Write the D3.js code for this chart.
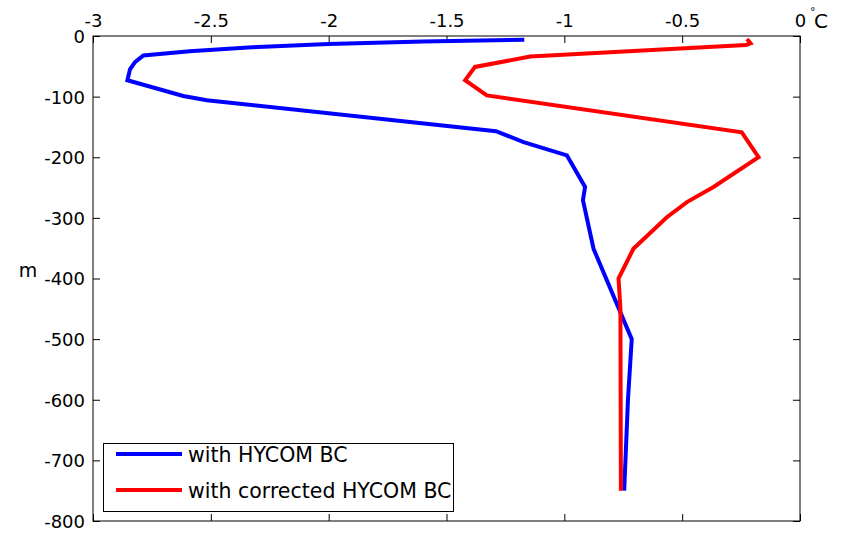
<!DOCTYPE html>
<html>
<head>
<meta charset="utf-8">
<script src="https://cdn.jsdelivr.net/npm/d3@7/dist/d3.min.js"></script>
<style>
  html, body { margin: 0; padding: 0; background: #fff; }
  svg { display: block; font-family: "DejaVu Sans", "Liberation Sans", Arial, sans-serif; }
</style>
</head>
<body>
<svg id="chart" width="854" height="536"></svg>
<script>
// Temperature difference profiles (°C) against depth (m)
const blueDepth = [-6, -9, -13, -18, -25, -32, -43, -55, -73, -99, -106, -157, -175, -197, -249, -271, -351, -500, -600, -750];
const blueTemp  = [-1.17, -1.6, -2.0, -2.3, -2.59, -2.786, -2.822, -2.843, -2.854, -2.617, -2.517, -1.29, -1.173, -0.989, -0.912, -0.921, -0.876, -0.714, -0.73, -0.746];

const redDepth = [-5, -12, -15, -34, -51, -73, -98, -159, -200, -249, -274, -299, -351, -400, -450, -750];
const redTemp  = [-0.225, -0.21, -0.23, -1.145, -1.379, -1.421, -1.329, -0.247, -0.176, -0.367, -0.48, -0.565, -0.707, -0.77, -0.762, -0.76];

const seriesNames = ["with HYCOM BC", "with corrected HYCOM BC"];
const seriesColors = ["#0000ff", "#ff0000"];

const xTicks = [-3, -2.5, -2, -1.5, -1, -0.5, 0];
const yTicks = [0, -100, -200, -300, -400, -500, -600, -700, -800];

const W = 854, H = 536;
const plot = { left: 93, right: 800, top: 36, bottom: 521 };
const FONT = "'DejaVu Sans', 'Liberation Sans', Arial, sans-serif";

const svg = d3.select("#chart");
svg.append("rect").attr("width", W).attr("height", H).attr("fill", "#fff");

const x = d3.scaleLinear().domain([-3, 0]).range([plot.left, plot.right]);
const y = d3.scaleLinear().domain([0, -800]).range([plot.top, plot.bottom]);

const fmt = d => String(d);
const tickLen = 7;

// Top axis with labels, ticks pointing into the plot
const topAxis = svg.append("g")
  .attr("transform", `translate(0,${plot.top})`)
  .call(d3.axisTop(x).tickValues(xTicks).tickFormat(fmt).tickSizeInner(-tickLen).tickSizeOuter(0).tickPadding(0));
topAxis.select(".domain").remove();
topAxis.selectAll("text").attr("y", -9).attr("dy", 0).attr("font-size", 18).attr("fill", "#000")
  .attr("font-family", FONT);

// Bottom axis: ticks only
const bottomAxis = svg.append("g")
  .attr("transform", `translate(0,${plot.bottom})`)
  .call(d3.axisBottom(x).tickValues(xTicks).tickFormat("").tickSizeInner(-tickLen).tickSizeOuter(0));
bottomAxis.select(".domain").remove();

// Left axis with labels
const leftAxis = svg.append("g")
  .attr("transform", `translate(${plot.left},0)`)
  .call(d3.axisLeft(y).tickValues(yTicks).tickFormat(fmt).tickSizeInner(-tickLen).tickSizeOuter(0).tickPadding(0));
leftAxis.select(".domain").remove();
leftAxis.selectAll("text").attr("x", -8).attr("dy", "0.36em").attr("font-size", 18).attr("fill", "#000")
  .attr("font-family", FONT);

// Right axis: ticks only
const rightAxis = svg.append("g")
  .attr("transform", `translate(${plot.right},0)`)
  .call(d3.axisRight(y).tickValues(yTicks).tickFormat("").tickSizeInner(-tickLen).tickSizeOuter(0));
rightAxis.select(".domain").remove();

svg.selectAll(".tick line").attr("stroke", "#000");

// Axes box
svg.append("rect")
  .attr("x", plot.left).attr("y", plot.top)
  .attr("width", plot.right - plot.left).attr("height", plot.bottom - plot.top)
  .attr("fill", "none").attr("stroke", "#000").attr("stroke-width", 1);

// Profiles
const line = d3.line().x(d => x(d[0])).y(d => y(d[1]));
const series = [
  d3.zip(blueTemp, blueDepth),
  d3.zip(redTemp, redDepth)
];
series.forEach((pts, i) => {
  svg.append("path")
    .datum(pts)
    .attr("d", line)
    .attr("fill", "none")
    .attr("stroke", seriesColors[i])
    .attr("stroke-width", 4)
    .attr("stroke-linejoin", "miter");
});

// Unit labels
svg.append("text").attr("x", 28).attr("y", 270).attr("dy", "0.36em")
  .attr("text-anchor", "middle").attr("font-size", 19).text("m");
svg.append("text").attr("x", 810).attr("y", 15)
  .attr("font-size", 11).text("°");
svg.append("text").attr("x", 814).attr("y", 28)
  .attr("font-size", 20).text("C");

// Legend
const legend = svg.append("g");
legend.append("rect")
  .attr("x", 103.5).attr("y", 443.5).attr("width", 350).attr("height", 68)
  .attr("fill", "#fff").attr("stroke", "#000").attr("stroke-width", 1);
const legendRows = [454, 490];
seriesNames.forEach((name, i) => {
  legend.append("line")
    .attr("x1", 116).attr("x2", 182)
    .attr("y1", legendRows[i]).attr("y2", legendRows[i])
    .attr("stroke", seriesColors[i]).attr("stroke-width", 4);
  legend.append("text")
    .attr("x", 188).attr("y", legendRows[i] + 1).attr("dy", "0.36em")
    .attr("font-size", 20.5).attr("fill", "#000").text(name);
});
</script>
</body>
</html>
